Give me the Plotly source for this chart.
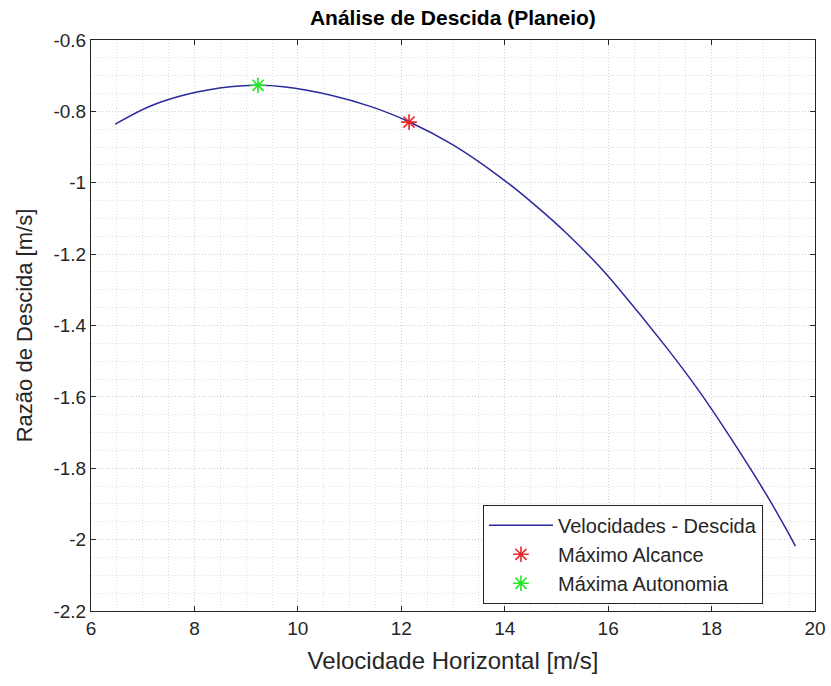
import plotly.graph_objects as go

# Glide polar: horizontal speed vs. sink rate
velocidade = [6.47, 7.15, 7.92, 8.69, 9.23, 9.72, 10.68, 11.40, 12.15, 13.00,
              13.91, 14.54, 15.20, 15.84, 16.19, 17.13, 17.77, 18.40, 19.06,
              19.51, 19.62]
descida = [-0.836, -0.785, -0.750, -0.731, -0.727, -0.731, -0.756, -0.786,
           -0.829, -0.894, -0.984, -1.057, -1.142, -1.236, -1.294, -1.462,
           -1.586, -1.722, -1.874, -1.988, -2.018]

# Operating points
alcance_v, alcance_w = [12.15], [-0.830]
autonomia_v, autonomia_w = [9.23], [-0.727]

x_ticks = [6, 8, 10, 12, 14, 16, 18, 20]
y_ticks = [-0.6, -0.8, -1, -1.2, -1.4, -1.6, -1.8, -2, -2.2]
y_tick_text = ["-0.6", "-0.8", "-1", "-1.2", "-1.4", "-1.6", "-1.8", "-2", "-2.2"]

FONT = "Liberation Sans, Arial, sans-serif"
TXT = "#262626"

fig = go.Figure()
fig.add_trace(go.Scatter(
    x=velocidade, y=descida, mode="lines",
    name="Velocidades - Descida",
    line=dict(color="#2a2a9c", width=1.5, shape="spline", smoothing=1.0),
))
fig.add_trace(go.Scatter(
    x=alcance_v, y=alcance_w, mode="markers", name="Máximo Alcance",
    marker=dict(symbol="asterisk-open", size=13, color="#e8262b",
                line=dict(color="#e8262b", width=1.6)),
))
fig.add_trace(go.Scatter(
    x=autonomia_v, y=autonomia_w, mode="markers", name="Máxima Autonomia",
    marker=dict(symbol="asterisk-open", size=13, color="#22e622",
                line=dict(color="#22e622", width=1.6)),
))

axis_common = dict(
    showline=True, linecolor="#262626", linewidth=1, mirror="ticks",
    ticks="inside", ticklen=5, tickcolor="#262626", tickwidth=1,
    showgrid=True, gridcolor="#cfcfcf", griddash="1px,2px", gridwidth=1,
    zeroline=False, automargin=False,
    tickfont=dict(family=FONT, size=19, color=TXT),
)

fig.update_xaxes(
    range=[6, 20], tickvals=x_ticks,
    title=dict(text="Velocidade Horizontal [m/s]", standoff=14,
               font=dict(family=FONT, size=24, color=TXT)),
    minor=dict(dtick=0.5, showgrid=True, gridcolor="#dedede",
               griddash="1px,2px"),
    **axis_common,
)
fig.update_yaxes(
    range=[-2.2, -0.6], tickvals=y_ticks, ticktext=y_tick_text,
    title=dict(text="Razão de Descida [m/s]", standoff=14,
               font=dict(family=FONT, size=22, color=TXT)),
    minor=dict(dtick=0.05, showgrid=True, gridcolor="#dedede",
               griddash="1px,2px"),
    **axis_common,
)

fig.update_layout(
    width=831, height=686,
    margin=dict(l=91, r=16, t=40, b=75),
    paper_bgcolor="white", plot_bgcolor="white",
    title=dict(text="<b>Análise de Descida (Planeio)</b>",
               x=0.545, xanchor="center", y=0.975, yanchor="middle",
               font=dict(family=FONT, size=21, color="black")),
    showlegend=True,
    legend=dict(
        x=0.5414, y=0.186, xanchor="left", yanchor="top",
        bgcolor="white", bordercolor="#262626", borderwidth=1,
        font=dict(family=FONT, size=20, color=TXT),
        itemwidth=64, tracegroupgap=0,
    ),
)

fig.write_html("out.html")
